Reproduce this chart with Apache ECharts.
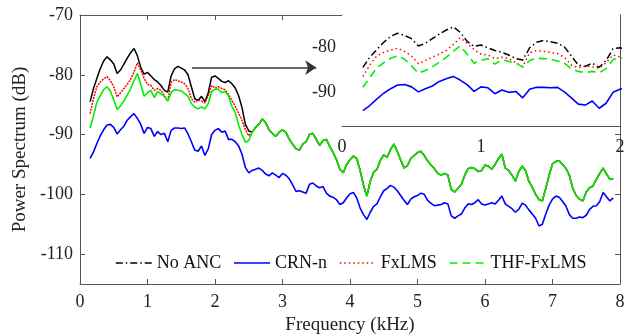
<!DOCTYPE html>
<html>
<head>
<meta charset="utf-8">
<script src="https://cdn.jsdelivr.net/npm/echarts@6/dist/echarts.min.js"></script>
<style>
  html, body { margin: 0; padding: 0; background: #fff; }
  #chart { width: 638px; height: 336px; }
</style>
</head>
<body>
<div id="chart"></div>
<script>
// frequency grid (kHz)
const freq = [
  0.15, 0.20, 0.25, 0.30, 0.35, 0.40, 0.45, 0.50, 0.55, 0.60, 0.65, 0.70, 0.75, 0.80, 0.85, 0.90, 0.95,
  1.00, 1.05, 1.10, 1.15, 1.20, 1.25, 1.30, 1.35, 1.40, 1.45, 1.50, 1.55, 1.60, 1.65, 1.70, 1.75, 1.80, 1.85, 1.90, 1.95,
  2.00, 2.05, 2.10, 2.15, 2.20, 2.25, 2.30, 2.35, 2.40, 2.45, 2.50, 2.55, 2.60, 2.65, 2.70, 2.75, 2.80, 2.85, 2.90, 2.95,
  3.00, 3.05, 3.10, 3.15, 3.20, 3.25, 3.30, 3.35, 3.40, 3.45, 3.50, 3.55, 3.60, 3.65, 3.70, 3.75, 3.80, 3.85, 3.90, 3.95,
  4.00, 4.05, 4.10, 4.15, 4.20, 4.25, 4.30, 4.35, 4.40, 4.45, 4.50, 4.55, 4.60, 4.65, 4.70, 4.75, 4.80, 4.85, 4.90, 4.95,
  5.00, 5.05, 5.10, 5.15, 5.20, 5.25, 5.30, 5.35, 5.40, 5.45, 5.50, 5.55, 5.60, 5.65, 5.70, 5.75, 5.80, 5.85, 5.90, 5.95,
  6.00, 6.05, 6.10, 6.15, 6.20, 6.25, 6.30, 6.35, 6.40, 6.45, 6.50, 6.55, 6.60, 6.65, 6.70, 6.75, 6.80, 6.85, 6.90, 6.95,
  7.00, 7.05, 7.10, 7.15, 7.20, 7.25, 7.30, 7.35, 7.40, 7.45, 7.50, 7.55, 7.60, 7.65, 7.70, 7.75, 7.80, 7.85, 7.90
];

// 0.15 - 2.50 kHz, where the three curves separate
const noAncLow = [
  -84.5, -82.3, -80.6, -79.0, -77.7, -77.0, -77.5, -78.2, -79.8, -79.2, -78.2, -77.2, -76.3, -75.6, -76.8, -78.8, -79.9,
  -79.6, -80.2, -80.8, -81.2, -81.8, -82.6, -82.9, -80.2, -79.0, -78.6, -78.9, -79.2, -80.0, -82.0, -84.0, -84.3, -83.6, -84.5, -83.0, -80.4,
  -80.2, -80.6, -81.1, -81.3, -81.0, -81.5, -82.2, -83.5, -85.5, -88.3, -89.4
];
const fxlmsLow = [
  -86.5, -84.0, -82.0, -81.2, -80.7, -80.3, -81.0, -82.0, -83.7, -83.0, -82.3, -81.6, -80.8, -79.5, -78.0, -79.2, -80.6,
  -81.6, -81.8, -82.6, -82.3, -82.6, -83.5, -84.4, -81.3, -80.8, -81.0, -81.2, -81.5, -82.3, -84.0, -84.6, -84.2, -84.4, -84.7, -83.5, -81.8,
  -82.2, -82.0, -82.3, -82.5, -83.3, -84.3, -85.3, -86.4, -87.6, -89.2, -90.2
];
const thfLow = [
  -88.9, -86.8, -84.6, -83.5, -82.5, -82.0, -82.7, -84.2, -85.8, -85.2, -84.4, -83.4, -82.3, -81.0, -79.8, -81.6, -83.6,
  -83.0, -82.6, -83.8, -82.8, -83.2, -83.6, -84.4, -83.0, -82.5, -82.6, -82.7, -83.1, -83.6, -84.8, -85.4, -85.7, -85.4, -85.7, -84.8, -82.8,
  -82.4, -82.4, -83.0, -82.8, -83.5, -85.3, -86.3, -88.4, -90.0, -91.3, -91.0
];
// 2.55 - 7.90 kHz, where No ANC, FxLMS and THF-FxLMS lie on top of each other
const overlapHigh = [
  -89.6, -88.8, -88.3, -87.4, -88.0, -89.2, -89.8, -90.3, -89.6,
  -89.2, -89.6, -90.8, -91.6, -92.4, -92.6, -91.6, -91.2, -90.0, -89.8, -90.8, -91.8, -91.0, -90.8, -92.0, -93.0, -94.2, -95.8, -96.4, -95.0,
  -94.2, -93.6, -94.0, -96.0, -98.5, -100.3, -97.8, -96.3, -95.8, -94.3, -93.4, -93.8, -92.5, -91.6, -92.8, -94.2, -95.6, -95.2, -94.0, -93.5,
  -93.0, -92.8, -93.5, -94.4, -95.1, -95.7, -96.5, -96.8, -96.5, -96.8, -99.2, -99.6, -99.0, -98.3, -96.8, -95.7, -95.5, -95.7, -96.2, -96.0,
  -95.1, -95.3, -95.8, -95.0, -94.0, -93.3, -95.6, -96.0, -96.8, -97.8, -96.2, -95.3, -96.0, -97.8, -98.8, -100.0, -100.9, -101.1, -99.0, -96.8,
  -94.9, -94.5, -94.4, -95.0, -95.7, -96.8, -99.0, -100.2, -100.8, -101.1, -99.6, -98.9, -98.6, -97.5, -96.5, -95.6, -96.6, -97.5, -97.4
];
const crnN = [
  -94.0, -92.9, -91.5, -90.2, -89.2, -88.4, -88.3, -88.8, -89.9, -89.2, -88.6, -87.6, -87.0, -86.5, -87.3, -88.3, -89.8,
  -88.8, -89.0, -90.3, -89.5, -90.0, -89.8, -91.2, -89.3, -88.9, -88.9, -89.0, -88.9, -89.9, -91.2, -92.6, -92.8, -91.9, -93.5, -92.4, -90.0,
  -89.3, -89.0, -89.6, -89.4, -90.8, -90.8, -91.2, -91.9, -93.3, -95.5, -96.4, -96.0, -95.8, -95.6, -96.0, -96.6, -96.9, -96.4, -96.8, -97.2,
  -96.5, -96.8, -97.4, -98.4, -99.5, -99.4, -99.6, -99.8, -98.3, -98.1, -98.6, -98.9, -98.7, -99.8, -100.3, -100.5, -100.9, -101.7, -101.4, -100.6,
  -99.9, -99.7, -100.6, -102.3, -103.4, -104.2, -103.0, -102.0, -101.6, -100.4, -99.4, -99.0, -98.5, -98.8, -99.4, -100.2, -101.0, -101.7, -100.8, -100.4,
  -100.2, -99.8, -100.0, -101.0, -101.5, -101.9, -101.8, -101.7, -101.4, -101.6, -103.6, -104.0, -103.6, -103.3, -102.3, -101.6, -101.7, -101.4, -100.9, -101.6,
  -101.8, -101.6, -101.4, -101.6, -101.0, -100.3, -101.6, -102.0, -102.4, -103.0, -102.5, -101.5, -101.8, -102.6, -103.3, -104.0, -105.3, -105.0, -103.3, -101.8,
  -100.8, -100.3, -100.5, -101.2, -102.0, -103.4, -104.0, -104.0, -103.8, -103.9, -103.5, -102.5, -102.0, -101.9, -101.2, -99.7, -100.4, -101.1, -100.6
];

const seriesNames = ['No ANC', 'CRN-n', 'FxLMS', 'THF-FxLMS'];
const xTicks = [0, 1, 2, 3, 4, 5, 6, 7, 8];
const yTicks = [-110, -100, -90, -80, -70];
const insetXTicks = [0, 1, 2];
const insetYTicks = [-90, -80];

const noAnc = noAncLow.concat(overlapHigh);
const fxlms = fxlmsLow.concat(overlapHigh);
const thf = thfLow.concat(overlapHigh);

function pairs(vals) {
  return vals.map((v, i) => [freq[i], v]);
}

const FONT = 'Liberation Serif';
const AXIS_COLOR = '#555';
const TEXT_COLOR = '#222';
const colors = { noAnc: '#000000', crn: '#0000ff', fx: '#ff0000', thf: '#00ee00' };
const styles = {
  noAnc: [7, 3, 1.5, 3],
  fx: [1.5, 3],
  thf: [8, 5]
};

const chart = echarts.init(document.getElementById('chart'));

function frameAxis(extra) {
  return Object.assign({
    type: 'value',
    axisLine: { show: true, onZero: false, lineStyle: { color: AXIS_COLOR, width: 1 } },
    axisTick: { show: true, inside: true, length: 5, lineStyle: { color: AXIS_COLOR } },
    splitLine: { show: false },
    axisLabel: { color: TEXT_COLOR, fontFamily: FONT, fontSize: 18 }
  }, extra);
}

function line(name, data, color, width, type, xi, yi, z) {
  return {
    name: name,
    type: 'line',
    xAxisIndex: xi,
    yAxisIndex: yi,
    data: data,
    showSymbol: false,
    symbol: 'none',
    clip: true,
    z: z,
    animation: false,
    lineStyle: { color: color, width: width, type: type },
    itemStyle: { color: color }
  };
}

function legendItem(name, color, type) {
  return {
    name: name,
    itemStyle: { opacity: 0, borderWidth: 0 },
    lineStyle: { type: type, width: 1.5, color: color, opacity: 1 }
  };
}

const mainBlack = line(seriesNames[0], pairs(noAnc), colors.noAnc, 1.5, 'solid', 0, 0, 2);
mainBlack.markLine = {
  silent: true,
  animation: false,
  symbol: ['none', 'arrow'],
  symbolSize: 11,
  label: { show: false },
  lineStyle: { color: '#333', width: 1.5, type: 'solid' },
  data: [[{ coord: [1.66, -78.8] }, { coord: [3.5, -78.8] }]]
};

const option = {
  backgroundColor: '#ffffff',
  animation: false,
  grid: [
    { left: 80, top: 15, width: 540, height: 269, show: false, containLabel: false, outerBoundsMode: 'none' },
    { left: 342, top: 15, width: 278, height: 111, show: true, backgroundColor: '#ffffff', borderWidth: 0, z: 3,
      containLabel: false, outerBoundsMode: 'none' }
  ],
  legend: {
    orient: 'horizontal',
    left: 110,
    top: 249,
    itemWidth: 36,
    itemHeight: 14,
    itemGap: 12,
    textStyle: { fontFamily: FONT, fontSize: 18, color: '#111' },
    data: [
      legendItem(seriesNames[0], colors.noAnc, styles.noAnc),
      legendItem(seriesNames[1], colors.crn, 'solid'),
      legendItem(seriesNames[2], colors.fx, styles.fx),
      legendItem(seriesNames[3], colors.thf, styles.thf)
    ]
  },
  xAxis: [
    frameAxis({
      gridIndex: 0, min: 0, max: 8, interval: 1, position: 'bottom',
      name: 'Frequency (kHz)', nameLocation: 'middle', nameGap: 29,
      nameTextStyle: { fontFamily: FONT, fontSize: 19, color: TEXT_COLOR },
      axisLabel: { color: TEXT_COLOR, fontFamily: FONT, fontSize: 18, margin: 9, customValues: xTicks },
      axisTick: { show: true, inside: true, length: 5, lineStyle: { color: AXIS_COLOR }, customValues: xTicks }
    }),
    frameAxis({
      gridIndex: 0, min: 0, max: 8, interval: 1, position: 'top',
      axisLabel: { show: false }
    }),
    frameAxis({
      gridIndex: 1, min: 0, max: 2, interval: 1, position: 'bottom',
      axisLabel: { color: TEXT_COLOR, fontFamily: FONT, fontSize: 18, margin: 12, customValues: insetXTicks },
      axisTick: { show: true, inside: true, length: 4, lineStyle: { color: AXIS_COLOR }, customValues: insetXTicks }
    }),
    frameAxis({
      gridIndex: 1, min: 0, max: 2, interval: 1, position: 'top',
      axisLabel: { show: false },
      axisTick: { show: true, inside: true, length: 4, lineStyle: { color: AXIS_COLOR } }
    })
  ],
  yAxis: [
    frameAxis({
      gridIndex: 0, min: -115, max: -70, position: 'left',
      name: 'Power Spectrum (dB)', nameLocation: 'middle', nameGap: 31,
      nameTextStyle: { fontFamily: FONT, fontSize: 19, color: TEXT_COLOR },
      axisLabel: { color: TEXT_COLOR, fontFamily: FONT, fontSize: 18, margin: 7, customValues: yTicks },
      axisTick: { show: true, inside: true, length: 5, lineStyle: { color: AXIS_COLOR }, customValues: yTicks }
    }),
    frameAxis({
      gridIndex: 0, min: -115, max: -70, position: 'right',
      axisLabel: { show: false, customValues: yTicks },
      axisTick: { show: true, inside: true, length: 5, lineStyle: { color: AXIS_COLOR }, customValues: yTicks }
    }),
    frameAxis({
      gridIndex: 1, min: -97.4, max: -73, position: 'left',
      axisLabel: { color: TEXT_COLOR, fontFamily: FONT, fontSize: 18, margin: 6, customValues: insetYTicks },
      axisTick: { show: true, inside: true, length: 4, lineStyle: { color: AXIS_COLOR }, customValues: insetYTicks }
    }),
    frameAxis({
      gridIndex: 1, min: -97.4, max: -73, position: 'right',
      axisLabel: { show: false, customValues: insetYTicks },
      axisTick: { show: true, inside: true, length: 4, lineStyle: { color: AXIS_COLOR }, customValues: insetYTicks }
    })
  ],
  series: [
    mainBlack,
    line(seriesNames[1], pairs(crnN), colors.crn, 1.6, 'solid', 0, 0, 3),
    line(seriesNames[2], pairs(fxlms), colors.fx, 1.5, [2, 1], 0, 0, 4),
    line(seriesNames[3], pairs(thf), colors.thf, 1.6, 'solid', 0, 0, 5),
    // inset, 0-2 kHz
    line(seriesNames[0], pairs(noAnc), colors.noAnc, 1.5, styles.noAnc, 2, 2, 6),
    line(seriesNames[1], pairs(crnN), colors.crn, 1.6, 'solid', 2, 2, 6),
    line(seriesNames[2], pairs(fxlms), colors.fx, 1.5, styles.fx, 2, 2, 6),
    line(seriesNames[3], pairs(thf), colors.thf, 1.6, styles.thf, 2, 2, 6)
  ]
};

chart.setOption(option);
</script>
</body>
</html>
